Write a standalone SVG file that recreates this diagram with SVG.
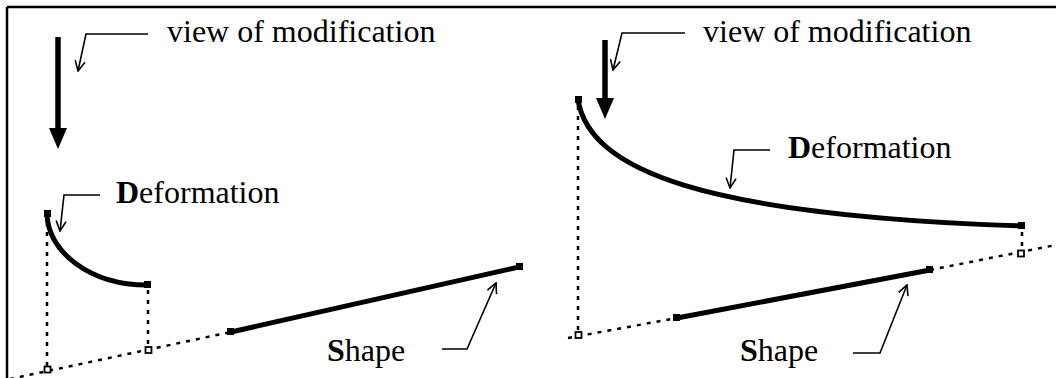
<svg xmlns="http://www.w3.org/2000/svg" width="1056" height="378" viewBox="0 0 1056 378">
<style>
.txt{font-family:"Liberation Serif","Times New Roman",serif;font-size:32px;fill:#000}
.b{font-weight:bold}
.thick{stroke:#000;stroke-width:5.5;fill:none}
.curve{stroke:#000;stroke-width:5;fill:none}
.shape{stroke:#000;stroke-width:5;fill:none}
.dot{stroke:#000;stroke-width:2.5;stroke-dasharray:4 6;fill:none}
.call{stroke:#000;stroke-width:1.6;fill:none;marker-end:url(#open)}
.fsq{fill:#000}
.osq{fill:#fff;stroke:#000;stroke-width:1.8}
</style>
<defs>
<marker id="open" viewBox="0 0 12 12" refX="11" refY="6" markerWidth="12" markerHeight="12" markerUnits="userSpaceOnUse" orient="auto">
<path d="M1,1 L11,6 L1,11" fill="none" stroke="#000" stroke-width="1.6"/>
</marker>
</defs>
<rect width="1056" height="378" fill="#fff"/>
<g id="frame">
<path d="M7,7 H1056 M7,7 V378" stroke="#000" stroke-width="2.5" fill="none"/>
</g>
<g id="connectors">
<path class="dot" d="M10,379 L231,332"/>
<path class="dot" d="M47,222 V366"/>
<path class="dot" d="M148,290 V346"/>
<path class="call" d="M148,34 H86 L78,71"/>
<path class="call" d="M100,195 H64 L60,231"/>
<path class="call" d="M442,349 H467 L496,283"/>
<path class="dot" d="M568,338 L677,318"/>
<path class="dot" d="M930,270 L1056,245"/>
<path class="dot" d="M578,106 V331"/>
<path class="dot" d="M1022,232 V249"/>
<path class="call" d="M685,33 H622 L613,70"/>
<path class="call" d="M770,150 H734 L730,188"/>
<path class="call" d="M853,353 H880 L907,285"/>
</g>
<g id="left-view">
<path class="thick" d="M58,37 V130"/>
<path d="M49,128 L67,128 L58,149 Z" fill="#000"/>
<text class="txt" x="167" y="42">view of modification</text>
</g>
<g id="left-deformation">
<path class="curve" d="M47,213 A100,72 0 0 0 147,285"/>
<rect class="fsq" x="44" y="210" width="7" height="7"/>
<rect class="fsq" x="144" y="281" width="7" height="7"/>
<rect class="osq" x="44.5" y="366.5" width="6" height="6"/>
<rect class="osq" x="145.5" y="347" width="6" height="6"/>
<text class="txt" x="116" y="203"><tspan class="b">D</tspan>eformation</text>
</g>
<g id="left-shape">
<path class="shape" d="M231,332 L519,267"/>
<rect class="fsq" x="227" y="328" width="7" height="7"/>
<rect class="fsq" x="516" y="263" width="7" height="7"/>
<text class="txt" x="327" y="361"><tspan class="b">S</tspan>hape</text>
</g>
<g id="right-view">
<path class="thick" d="M605,40 V100"/>
<path d="M596,98 L614,98 L605,119 Z" fill="#000"/>
<text class="txt" x="703" y="42">view of modification</text>
</g>
<g id="right-deformation">
<path class="curve" d="M578,100 C590,170 700,215 1022,226"/>
<rect class="fsq" x="575" y="96" width="7" height="7"/>
<rect class="fsq" x="1018" y="222" width="7" height="7"/>
<rect class="osq" x="575.5" y="332" width="6" height="6"/>
<rect class="osq" x="1018" y="250.5" width="6" height="6"/>
<text class="txt" x="788" y="158"><tspan class="b">D</tspan>eformation</text>
</g>
<g id="right-shape">
<path class="shape" d="M677,318 L930,270"/>
<rect class="fsq" x="673" y="314" width="7" height="7"/>
<rect class="fsq" x="926" y="266" width="7" height="7"/>
<text class="txt" x="740" y="361"><tspan class="b">S</tspan>hape</text>
</g>
</svg>
